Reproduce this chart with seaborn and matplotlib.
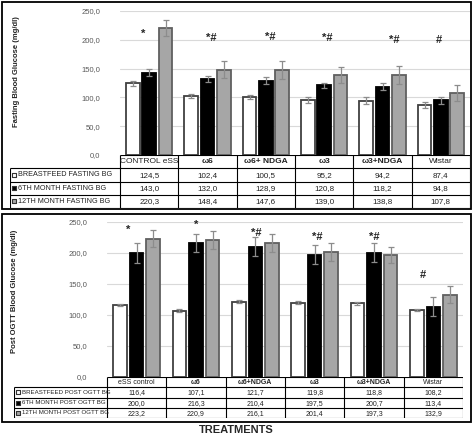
import numpy as np
import pandas as pd
import matplotlib
matplotlib.use("Agg")
import matplotlib.pyplot as plt
from matplotlib.patches import Rectangle
from matplotlib.ticker import FuncFormatter
import seaborn as sns

# ---- data -------------------------------------------------------------
cats_top = ["CONTROL eSS", "ω6", "ω6+ NDGA", "ω3", "ω3+NDGA", "Wistar"]
cats_bot = ["eSS control", "ω6", "ω6+NDGA", "ω3", "ω3+NDGA", "Wistar"]

fast_labels = ["BREASTFEED FASTING BG", "6TH MONTH FASTING BG", "12TH MONTH FASTING BG"]
fast_bf = [124.5, 102.4, 100.5, 95.2, 94.2, 87.4]
fast_6m = [143.0, 132.0, 128.9, 120.8, 118.2, 94.8]
fast_12m = [220.3, 148.4, 147.6, 139.0, 138.8, 107.8]
fast_bf_err = [4, 4, 4, 5, 6, 5]
fast_6m_err = [6, 6, 6, 5, 6, 6]
fast_12m_err = [14, 15, 15, 14, 15, 14]
fast_marks = ["*", "*#", "*#", "*#", "*#", "#"]

ogtt_labels = ["BREASTFEED POST OGTT BG", "6TH MONTH POST OGTT BG", "12TH MONTH POST OGTT BG"]
ogtt_bf = [116.4, 107.1, 121.7, 119.8, 118.8, 108.2]
ogtt_6m = [200.0, 216.3, 210.4, 197.5, 200.7, 113.4]
ogtt_12m = [223.2, 220.9, 216.1, 201.4, 197.3, 132.9]
ogtt_bf_err = [2, 2, 2, 2, 2, 2]
ogtt_6m_err = [16, 15, 15, 16, 16, 15]
ogtt_12m_err = [14, 14, 14, 14, 13, 14]
ogtt_marks = ["*", "*", "*#", "*#", "*#", "#"]

# ---- style ------------------------------------------------------------
FILLS = ["#ffffff", "#000000", "#a6a6a6"]
EDGES = ["#404040", "#000000", "#606060"]
ERR_C = "#8c8c8c"
GRID_C = "#d9d9d9"

sns.set_style("white")
plt.rcParams["font.family"] = ["Liberation Sans", "DejaVu Sans"]

W, H = 473, 437
fig = plt.figure(figsize=(W / 100, H / 100), dpi=100)


def px_axes(left, top, right, bottom):
    return fig.add_axes([left / W, 1 - bottom / H, (right - left) / W, (bottom - top) / H])


def bar_panel(ax, cats, labels, series, errs, marks, mark_pos):
    df = pd.DataFrame({
        "cat": np.tile(cats, 3),
        "series": np.repeat(labels, len(cats)),
        "value": np.concatenate(series),
    })
    sns.barplot(data=df, x="cat", y="value", hue="series", order=cats,
                hue_order=labels, palette=FILLS, width=0.84, gap=0.18,
                errorbar=None, legend=False, ax=ax, zorder=2)
    n = len(cats)
    for k, p in enumerate(ax.patches):
        p.set_edgecolor(EDGES[k // n])
        p.set_linewidth(1.3)
    x = np.arange(n)
    for j in range(3):
        ax.errorbar(x + (j - 1) * 0.28, series[j], yerr=errs[j], fmt="none",
                    ecolor=ERR_C, elinewidth=0.9, capsize=2, capthick=0.9, zorder=3)
    for i, (m, (dx, yy)) in enumerate(zip(marks, mark_pos)):
        ax.text(i + dx, yy, m, ha="center", va="center", fontsize=8,
                fontweight="bold", zorder=4)
    ax.set_xlim(-0.5, n - 0.5)
    ax.set_ylim(0, 250)
    ax.set_yticks(np.arange(0, 251, 50))
    ax.yaxis.set_major_formatter(FuncFormatter(lambda v, _: f"{v:.1f}".replace(".", ",")))
    ax.tick_params(axis="y", length=0, labelsize=5.5, labelcolor="#595959", pad=14)
    ax.set_xticks([])
    ax.set_xlabel("")
    ax.set_ylabel("")
    ax.grid(axis="y", color=GRID_C, lw=0.8, zorder=0)
    for s in ax.spines.values():
        s.set_visible(False)
    ax.set_facecolor("none")


def table_panel(ax, cats, labels, series, lab_w, head_fs, val_fs, lab_fs):
    n = len(cats)
    ax.set_xlim(-0.5 - lab_w, n - 0.5)
    ax.set_ylim(4, 0)
    ax.axis("off")
    xl = -0.5 - lab_w
    ax.hlines(0, -0.5, n - 0.5, color="black", lw=0.8)
    for r in range(1, 5):
        ax.hlines(r, xl, n - 0.5, color="black", lw=0.8)
    for c in range(n + 1):
        ax.vlines(c - 0.5, 0, 4, color="black", lw=0.8)
    ax.vlines(xl, 1, 4, color="black", lw=0.8)
    for i, c in enumerate(cats):
        bold = c.startswith("ω")
        ax.text(i, 0.5, c, ha="center", va="center", fontsize=head_fs,
                fontweight="bold" if bold else "normal", color="#222222")
    for j in range(3):
        ax.scatter([xl + 0.07], [j + 1.5], marker="s", s=11, facecolor=FILLS[j],
                   edgecolor="#333333", linewidth=0.8, zorder=3, clip_on=False)
        ax.text(xl + 0.14, j + 1.5, labels[j], ha="left", va="center",
                fontsize=lab_fs, color="#222222")
        for i in range(n):
            ax.text(i, j + 1.55, f"{series[j][i]:.1f}".replace(".", ","),
                    ha="center", va="center", fontsize=val_fs, color="#222222")


# ---- panel frames -----------------------------------------------------
for (l, t, r, b) in [(2, 2, 471, 209), (2, 214, 471, 422)]:
    fig.patches.append(Rectangle((l / W, 1 - b / H), (r - l) / W, (b - t) / H,
                                 transform=fig.transFigure, fill=False,
                                 edgecolor="black", lw=1.3))

# ---- top: fasting ----------------------------------------------------
ax1 = px_axes(120, 11, 470, 155)
bar_panel(ax1, cats_top, fast_labels, [fast_bf, fast_6m, fast_12m],
          [fast_bf_err, fast_6m_err, fast_12m_err], fast_marks,
          [(-0.11, 210), (0.06, 203), (0.08, 204), (0.06, 203), (0.2, 200), (-0.04, 200)])
fig.text(17 / W, 1 - 72 / H, "Fasting Blood Glucose (mg/dl)", rotation=90,
         ha="center", va="center", fontsize=5.5, fontweight="bold", color="#222222")
t1 = px_axes(10, 155, 470, 208)
table_panel(t1, cats_top, fast_labels, [fast_bf, fast_6m, fast_12m],
            110 / (350 / 6), 6, 5.8, 5.2)

# ---- bottom: post OGTT -----------------------------------------------
ax2 = px_axes(107, 222, 463, 377)
bar_panel(ax2, cats_bot, ogtt_labels, [ogtt_bf, ogtt_6m, ogtt_12m],
          [ogtt_bf_err, ogtt_6m_err, ogtt_12m_err], ogtt_marks,
          [(-0.15, 237), (0.0, 246), (0.02, 232), (0.04, 226), (0.0, 226), (-0.18, 165)])
fig.text(15 / W, 1 - 291 / H, "Post OGTT Blood Glucose (mg/dl)", rotation=90,
         ha="center", va="center", fontsize=5.5, fontweight="bold", color="#222222")
t2 = px_axes(14, 377, 463, 418)
table_panel(t2, cats_bot, ogtt_labels, [ogtt_bf, ogtt_6m, ogtt_12m],
            93 / (356 / 6), 5, 5, 4.4)

fig.text(236 / W, 1 - 430 / H, "TREATMENTS", ha="center", va="center",
         fontsize=8, fontweight="bold")

fig.savefig("out.png", dpi=100, facecolor="white")
